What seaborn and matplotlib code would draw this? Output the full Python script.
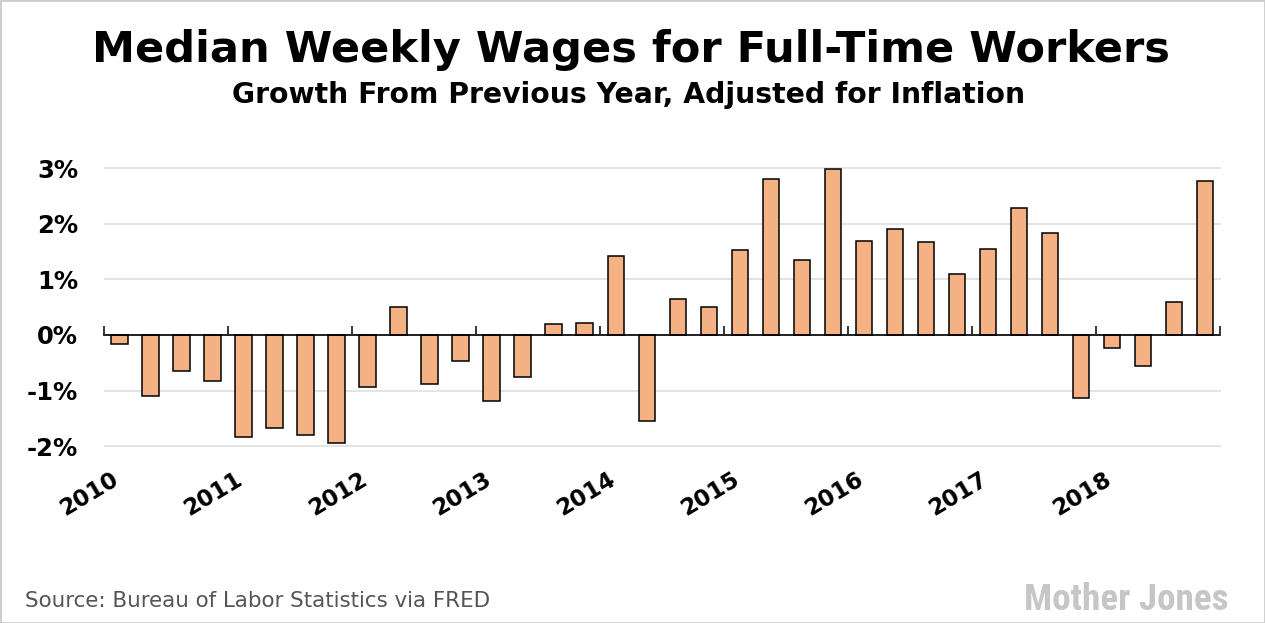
import matplotlib
matplotlib.use("Agg")
import matplotlib.pyplot as plt
from matplotlib import font_manager as fm
from matplotlib.patches import Rectangle
from matplotlib.transforms import blended_transform_factory
import seaborn as sns
import pandas as pd

# ---------------- data ----------------
years = [2010, 2011, 2012, 2013, 2014, 2015, 2016, 2017, 2018]
quarters = ["Q1", "Q2", "Q3", "Q4"]
growth = [
    -0.17, -1.09, -0.65, -0.82,   # 2010
    -1.84, -1.68, -1.79, -1.95,   # 2011
    -0.94, 0.50, -0.89, -0.46,    # 2012
    -1.19, -0.76, 0.19, 0.21,     # 2013
    1.42, -1.54, 0.64, 0.50,      # 2014
    1.52, 2.80, 1.34, 2.98,       # 2015
    1.69, 1.90, 1.67, 1.09,       # 2016
    1.54, 2.28, 1.83, -1.14,      # 2017
    -0.24, -0.56, 0.59, 2.77,     # 2018
]
year_labels = ["2010", "2011", "2012", "2013", "2014", "2015", "2016", "2017", "2018"]
ytick_values = [-2, -1, 0, 1, 2, 3]
ytick_labels = ["-2%", "-1%", "0%", "1%", "2%", "3%"]
title_text = "Median Weekly Wages for Full-Time Workers"
subtitle_text = "Growth From Previous Year, Adjusted for Inflation"
source_text = "Source: Bureau of Labor Statistics via FRED"
logo_text = "Mother Jones"

period = [f"{y} {q}" for y in years for q in quarters]
df = pd.DataFrame({"period": period, "growth": growth})

# ---------------- style ----------------
sns.set_theme(style="white")
names = {f.name for f in fm.fontManager.ttflist}


def pick(cands, default):
    for c in cands:
        if c in names:
            return c
    return default


narrow = pick(["Roboto Condensed", "Liberation Sans Narrow", "DejaVu Sans Condensed",
               "Open Sans Condensed"], "DejaVu Sans")
plt.rcParams["font.family"] = ["DejaVu Sans"]

W, H = 1265, 623
fig = plt.figure(figsize=(W / 100, H / 100), dpi=100)
fig.patch.set_facecolor("white")

y_bot_px, y_top_px = 457.3, 154.3
ax = fig.add_axes([104 / W, 1 - y_bot_px / H, 1116.5 / W, (y_bot_px - y_top_px) / H])

sns.barplot(data=df, x="period", y="growth", color="#F4B183", saturation=1,
            edgecolor="black", linewidth=1.1, width=0.53, ax=ax, zorder=3)

ax.set_xlim(-0.5, len(period) - 0.5)
ax.set_ylim(-2.2, 3.25)
ax.set_yticks(ytick_values, ytick_labels)
ax.yaxis.grid(True, color="#e2e2e2", linewidth=1.3)
ax.xaxis.grid(False)
ax.set_axisbelow(True)
ax.set_xlabel("")
ax.set_ylabel("")

for s in ["left", "right", "top"]:
    ax.spines[s].set_visible(False)
ax.spines["bottom"].set_position(("data", 0))
ax.spines["bottom"].set_color("black")
ax.spines["bottom"].set_linewidth(1.2)
ax.spines["bottom"].set_zorder(4)

ax.set_xticks([i * 4 - 0.5 for i in range(len(years) + 1)])
ax.tick_params(axis="x", direction="in", length=6.5, width=1.1, color="black",
               labelbottom=False, bottom=True)
ax.tick_params(axis="y", length=0, pad=18.5, labelsize=17.5, labelcolor="black")
for lab in ax.get_yticklabels():
    lab.set_fontweight("bold")
    lab.set_family("DejaVu Sans")

trans = blended_transform_factory(ax.transData, fig.transFigure)
for i, lab in enumerate(year_labels):
    ax.text(i * 4 - 0.5 + 0.42, 1 - 478 / H, lab, transform=trans, rotation=31,
            rotation_mode="anchor", ha="right", va="center", fontsize=16.5,
            fontweight="bold", family="DejaVu Sans", color="black")

# titles and notes
t_title = fig.text(631 / W, 1 - 62 / H, title_text, ha="center", va="baseline",
                   fontsize=28, fontweight="bold", family="DejaVu Sans", color="black")
t_sub = fig.text(629 / W, 1 - 103 / H, subtitle_text, ha="center", va="baseline",
                 fontsize=17, fontweight="bold", family="DejaVu Sans", color="black")
t_src = fig.text(25 / W, 1 - 607 / H, source_text, ha="left", va="baseline",
                 fontsize=13.5, family="DejaVu Sans", color="#555555")
t_logo = fig.text(1229 / W, 1 - 610.5 / H, logo_text, ha="right", va="baseline",
                  fontsize=30, fontweight="bold", family=narrow, fontstretch="condensed",
                  color="#c6c6c6")

fig.canvas.draw()
r = fig.canvas.get_renderer()
for t, target in [(t_title, 1077), (t_sub, 792), (t_src, 467), (t_logo, 205)]:
    w = t.get_window_extent(r).width
    t.set_fontsize(t.get_fontsize() * target / w)

fig.add_artist(Rectangle((0, 0), 1, 1, transform=fig.transFigure, fill=False,
                         edgecolor="#cccccc", linewidth=2))

fig.savefig("out.png", dpi=100, facecolor="white")
